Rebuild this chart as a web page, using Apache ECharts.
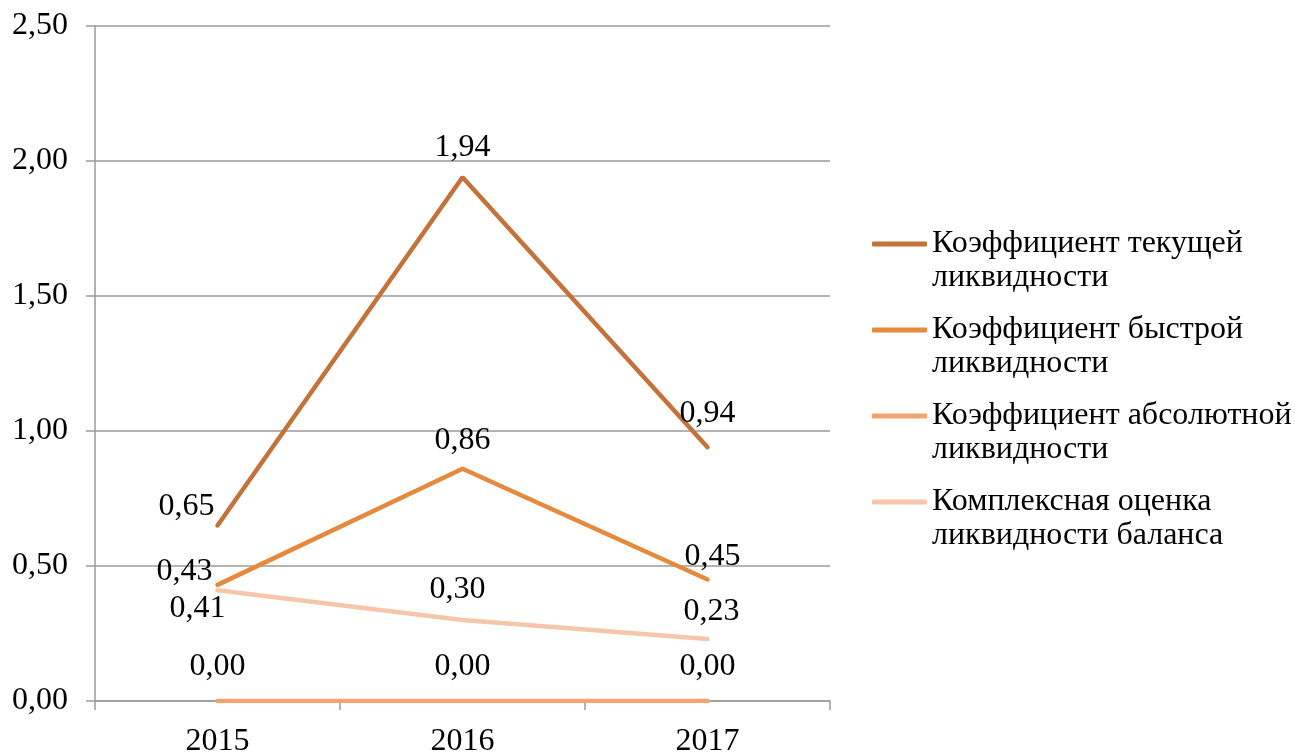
<!DOCTYPE html>
<html>
<head>
<meta charset="utf-8">
<script src="https://cdn.jsdelivr.net/npm/echarts@6/dist/echarts.min.js"></script>
<style>
  html, body { margin: 0; padding: 0; background: #fff; }
  #chart { width: 1295px; height: 753px; }
</style>
</head>
<body>
<div id="chart"></div>
<script>
// Liquidity ratios by year
const years = ['2015', '2016', '2017'];
const currentRatio = [0.65, 1.94, 0.94];
const quickRatio = [0.43, 0.86, 0.45];
const absoluteRatio = [0.00, 0.00, 0.00];
const balanceScore = [0.41, 0.30, 0.23];

const seriesNames = [
  'Коэффициент текущей ликвидности',
  'Коэффициент быстрой ликвидности',
  'Коэффициент абсолютной ликвидности',
  'Комплексная оценка ликвидности баланса'
];
const legendLines = {
  'Коэффициент текущей ликвидности': ['Коэффициент текущей', 'ликвидности'],
  'Коэффициент быстрой ликвидности': ['Коэффициент быстрой', 'ликвидности'],
  'Коэффициент абсолютной ликвидности': ['Коэффициент абсолютной', 'ликвидности'],
  'Комплексная оценка ликвидности баланса': ['Комплексная оценка', 'ликвидности баланса']
};
const colors = ['#C4723A', '#E5893D', '#F3A36F', '#F6C6AA'];

// label offsets per point so the numbers sit clear of the lines
const labelOffsets = [
  [[-31, -19], [0, -30], [0, -34]],
  [[-33, -13], [0, -28], [5, -23]],
  [[0, -34], [0, -34], [0, -34]],
  [[-20, 18], [-5, -30], [4, -27]]
];

const FONT = '"Liberation Serif", "Times New Roman", serif';
const FS = 32;
const fmt = v => Number(v).toFixed(2).replace('.', ',');

function makeSeries(i, values) {
  return {
    name: seriesNames[i],
    type: 'line',
    data: values.map((v, j) => ({
      value: v,
      label: { offset: labelOffsets[i][j] }
    })),
    symbol: 'circle',
    symbolSize: 0,
    showSymbol: true,
    lineStyle: { width: 4.5, color: colors[i], cap: 'round' },
    itemStyle: { color: colors[i] },
    label: {
      show: true,
      position: 'inside',
      fontFamily: FONT,
      fontSize: FS,
      color: '#000',
      formatter: p => fmt(p.value)
    },
    emphasis: { disabled: true },
    silent: true,
    z: 10 - i
  };
}

const chart = echarts.init(document.getElementById('chart'), null, { renderer: 'canvas' });
chart.setOption({
  animation: false,
  backgroundColor: '#fff',
  grid: {
    left: 95, right: 465, top: 26, bottom: 52,
    containLabel: false,
    outerBoundsMode: 'none'
  },
  legend: {
    orient: 'vertical',
    left: 872,
    top: 193,
    padding: 0,
    itemWidth: 55,
    itemHeight: 5,
    itemGap: -16,
    icon: 'roundRect',
    selectedMode: false,
    data: seriesNames.map((n, i) => ({ name: n, itemStyle: { color: colors[i] } })),
    // a blank first line keeps the swatch level with the first line of text
    formatter: n => ' \n' + legendLines[n].join('\n'),
    textStyle: {
      fontFamily: FONT,
      fontSize: FS,
      color: '#000',
      lineHeight: 34
    }
  },
  xAxis: {
    type: 'category',
    data: years,
    boundaryGap: true,
    axisLine: { lineStyle: { color: '#9A9A9A', width: 1.5 } },
    axisTick: { show: true, length: 9, lineStyle: { color: '#9A9A9A', width: 1.5 } },
    axisLabel: { fontFamily: FONT, fontSize: FS, color: '#000', margin: 25 }
  },
  yAxis: {
    type: 'value',
    min: 0,
    max: 2.5,
    interval: 0.5,
    axisLine: { show: true, lineStyle: { color: '#9A9A9A', width: 1.5 } },
    axisTick: { show: true, length: 9, lineStyle: { color: '#9A9A9A', width: 1.5 } },
    splitLine: { lineStyle: { color: '#9A9A9A', width: 1.5 } },
    axisLabel: {
      fontFamily: FONT, fontSize: FS, color: '#000', margin: 27,
      formatter: v => fmt(v)
    }
  },
  series: [
    makeSeries(0, currentRatio),
    makeSeries(1, quickRatio),
    makeSeries(2, absoluteRatio),
    makeSeries(3, balanceScore)
  ]
});
</script>
</body>
</html>
